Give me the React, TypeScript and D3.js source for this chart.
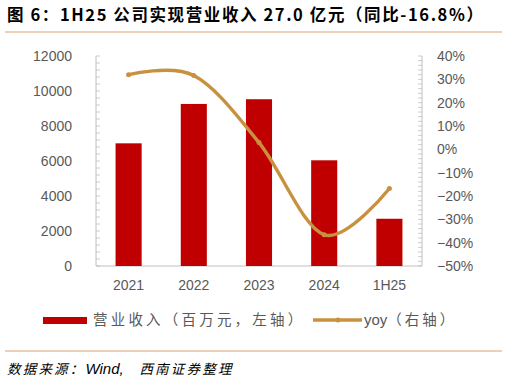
import React from "react";
import * as d3 from "d3";

const categories = ["2021", "2022", "2023", "2024", "1H25"];
const revenue = [7010, 9260, 9530, 6040, 2700];
const yoy = [32.0, 31.6, 2.9, -36.6, -16.8];
const leftTicks = [0, 2000, 4000, 6000, 8000, 10000, 12000];
const rightTicks = [-50, -40, -30, -20, -10, 0, 10, 20, 30, 40];

const W = 508, H = 382;
const L = 96, R = 422, T = 56, B = 266;
const CN = "'Noto Sans CJK SC', 'Liberation Sans', sans-serif";
const NUM = "'Liberation Sans', Arial, sans-serif";
const GRAY = "#595959";
const AX = "#BFBFBF";
const GOLD = "#C8913F";
const RED = "#C00000";

export default function App() {
  const x = d3.scaleBand().domain(categories).range([L, R]).paddingInner(0.6).paddingOuter(0.3);
  const xc = (c: string) => (x(c) as number) + x.bandwidth() / 2;
  const yL = d3.scaleLinear().domain([0, 12000]).range([B, T]);
  const yR = d3.scaleLinear().domain([-50, 40]).range([B, T]);
  const line = d3.line<number>().x((_, i) => xc(categories[i])).y((d) => yR(d)).curve(d3.curveCardinal.tension(0));
  const minorL = d3.range(0, 12001, 400);
  const minorR = d3.range(-50, 40.01, 2);
  return (
    <svg width={W} height={H} style={{ position: "absolute", left: 0, top: 0, background: "#fff" }}>
      <text x={7} y={21} fontFamily={CN} fontWeight="bold" fontSize={16.5} letterSpacing={1.6} fill="#000">
        图 6：1H25 公司实现营业收入 27.0 亿元（同比-16.8%）
      </text>
      <line x1={5} x2={502} y1={32} y2={32} stroke="#D9A66B" strokeWidth={1.2} />
      {/* left axis */}
      <line x1={L} x2={L} y1={T} y2={B} stroke={AX} />
      {minorL.map((v) => (
        <line key={"l" + v} x1={L} x2={L + 4} y1={yL(v)} y2={yL(v)} stroke={AX} strokeWidth={0.8} />
      ))}
      {leftTicks.map((v) => (
        <text key={"lt" + v} x={72} y={yL(v) + 5} textAnchor="end" fontFamily={NUM} fontSize={14} fill={GRAY}>
          {v}
        </text>
      ))}
      {/* right axis */}
      <line x1={R} x2={R} y1={T} y2={B} stroke={AX} />
      {minorR.map((v) => (
        <line key={"r" + v} x1={R - 4} x2={R} y1={yR(v)} y2={yR(v)} stroke={AX} strokeWidth={0.8} />
      ))}
      {rightTicks.map((v) => (
        <text key={"rt" + v} x={437} y={yR(v) + 5} textAnchor="start" fontFamily={NUM} fontSize={14} fill={GRAY}>
          {v < 0 ? "\u2212" + Math.abs(v) + "%" : v + "%"}
        </text>
      ))}
      {/* x axis */}
      <line x1={L} x2={R} y1={B} y2={B} stroke={AX} />
      {categories.map((c) => (
        <text key={"x" + c} x={xc(c)} y={290} textAnchor="middle" fontFamily={NUM} fontSize={14} fill={GRAY}>
          {c}
        </text>
      ))}
      {/* bars */}
      {revenue.map((v, i) => (
        <rect key={"b" + i} x={x(categories[i])} y={yL(v)} width={x.bandwidth()} height={B - yL(v)} fill={RED} />
      ))}
      {/* line */}
      <path d={line(yoy) || ""} fill="none" stroke={GOLD} strokeWidth={3.4} />
      {yoy.map((v, i) => (
        <circle key={"p" + i} cx={xc(categories[i])} cy={yR(v)} r={2.5} fill={GOLD} />
      ))}
      {/* legend */}
      <rect x={43} y={317} width={44} height={7} fill={RED} />
      <text x={93} y={325} fontFamily={CN} fontSize={14.5} letterSpacing={3.2} fill={GRAY}>营业收入（百万元，左轴）</text>
      <line x1={313} x2={362} y1={320} y2={320} stroke={GOLD} strokeWidth={3.4} />
      <circle cx={338} cy={320} r={2.5} fill={GOLD} />
      <text x={364} y={325} fontFamily={CN} fontSize={14.5} fill={GRAY}>
        <tspan fontFamily={NUM} fontSize={15}>yoy</tspan>
        <tspan letterSpacing={3}>（右轴）</tspan>
      </text>
      <line x1={5} x2={502} y1={351} y2={351} stroke="#D9A66B" strokeWidth={1.2} />
      <text x={7} y={374} fontFamily={CN} fontSize={13.5} fontStyle="italic" fill="#000">
        <tspan letterSpacing={2.2}>数据来源：</tspan>
        <tspan fontFamily={NUM} fontSize={15}>Wind,</tspan>
        <tspan letterSpacing={2.2}>{"\u3000西南证券整理"}</tspan>
      </text>
    </svg>
  );
}
